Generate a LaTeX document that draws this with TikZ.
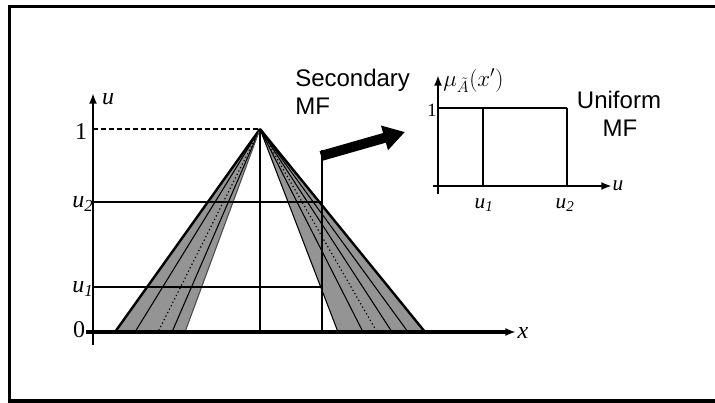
\documentclass[tikz,border=0pt]{standalone}
\usepackage{fontspec}
\setmainfont{Liberation Serif}
\newfontfamily\arialf{Liberation Sans}
\usetikzlibrary{arrows.meta}
\begin{document}
\begin{tikzpicture}[x=0.75pt,y=-0.75pt,
  axis/.style={line width=2pt,-{Latex[length=8pt,width=6pt]}},
  grid/.style={line width=1.1pt},
  thickv/.style={line width=2.2pt},
  shade/.style={fill=black!42},
  edge/.style={line width=1.8pt},
  thin/.style={line width=0.8pt},
  dots/.style={line width=0.9pt,dotted},
  serif/.style={inner sep=0pt,font=\fontsize{18}{20}\selectfont},
  sserif/.style={inner sep=0pt,font=\fontsize{14}{16}\selectfont},
  sans/.style={inner sep=0pt,font=\arialf\fontsize{18}{21}\selectfont}]
\useasboundingbox (0,0) rectangle (715,403);
% frame
\draw[line width=2.4pt] (715,6.5) -- (9.5,6.5) -- (9.5,401) -- (715,401);

% main coordinates
\coordinate (apex) at (260,129);
\coordinate (L0) at (115,332);
\coordinate (L1) at (135,332);
\coordinate (L2) at (158,332);
\coordinate (L3) at (172,332);
\coordinate (L4) at (185,332);
\coordinate (R0) at (338,332);
\coordinate (R1) at (363,332);
\coordinate (R2) at (377,332);
\coordinate (R3) at (392,332);
\coordinate (R4) at (408,332);
\coordinate (R5) at (425,332);

% shaded regions
\fill[shade] (apex) -- (L0) -- (L4) -- cycle;
\fill[shade] (apex) -- (R0) -- (R5) -- cycle;
\draw[edge] (apex) -- (L0);
\draw[thin] (apex) -- (L1);
\draw[dots] (apex) -- (L2);
\draw[thin] (apex) -- (L3);
\draw[thin,black!70] (apex) -- (L4);
\draw[thin] (apex) -- (R0);
\draw[thin] (apex) -- (R1);
\draw[dots] (apex) -- (R2);
\draw[thin] (apex) -- (R3);
\draw[thin] (apex) -- (R4);
\draw[edge] (apex) -- (R5);

% grid lines
\coordinate (u2a) at (93,202);
\coordinate (u2b) at (322,202);
\coordinate (u1a) at (93,287);
\coordinate (u1b) at (322,287);
\coordinate (onea) at (93,129);
\draw[grid] (u2a) -- (u2b);
\draw[grid] (u1a) -- (u1b);
\draw[line width=1pt,dashed,dash pattern=on 4pt off 2pt] (onea) -- (apex);

% verticals
\coordinate (apexb) at (260,332);
\coordinate (sectop) at (322,150);
\coordinate (secb) at (322,332);
\draw[thickv] (apex) -- (apexb);
\draw[thickv] (sectop) -- (secb);

% thick arrow
\coordinate (arS) at (321,156);
\coordinate (arE) at (405,132);
\draw[line width=7.5pt,-{Triangle[length=16pt,width=18pt]}] (arS) -- (arE);

% main axes
\coordinate (xs) at (86,332);
\coordinate (xe) at (516,332);
\coordinate (us) at (93,345);
\coordinate (ue) at (93,93);
\draw[axis,line width=2.4pt] (xs) -- (xe);
\draw[axis,line width=1.6pt] (us) -- (ue);

% main labels
\node[serif] (lone) at (81,132) {1};
\node[serif] (lu2) at (83,204) {\itshape u\textsubscript{2}};
\node[serif] (lu1) at (83,289) {\itshape u\textsubscript{1}};
\node[serif] (lzero) at (79,330) {0};
\node[serif] (lu) at (108,99) {\itshape u};
\node[serif] (lx) at (523,333) {\itshape x};

% secondary MF text
\node[sans,anchor=base west] (sec1) at (295,87) {Secondary};
\node[sans,anchor=base west] (sec2) at (295,115) {MF};

% inset
\coordinate (io) at (438,186);
\coordinate (ivs) at (438,194);
\coordinate (ive) at (438,75);
\coordinate (ihs) at (433,186);
\coordinate (ihe) at (612,186);
\coordinate (itl) at (438,108);
\coordinate (itr) at (567,108);
\coordinate (iu1t) at (483,108);
\coordinate (iu1b) at (483,186);
\coordinate (iu2b) at (567,186);
\draw[line width=1.4pt] (itl) -- (itr);
\draw[thickv] (iu1t) -- (iu1b);
\draw[line width=1.8pt] (itr) -- (iu2b);
\draw[axis,line width=2.2pt] (ihs) -- (ihe);
\draw[axis,line width=2.2pt] (ivs) -- (ive);

\node[sserif] (ione) at (432,110) {1};
\node[serif,font=\fontsize{16}{18}\selectfont] (iu1) at (484,205) {\itshape u\textsubscript{1}};
\node[serif,font=\fontsize{16}{18}\selectfont] (iu2) at (565,205) {\itshape u\textsubscript{2}};
\node[serif,font=\fontsize{16}{18}\selectfont] (iu) at (618,186) {\itshape u};
\node[serif,font=\fontsize{17}{19}\selectfont,anchor=west] (imu) at (443,81) {$\mu_{\tilde{A}}(x')$};

\node[sans] (uni1) at (619,100) {Uniform};
\node[sans] (uni2) at (620,128) {MF};
\end{tikzpicture}
\end{document}
